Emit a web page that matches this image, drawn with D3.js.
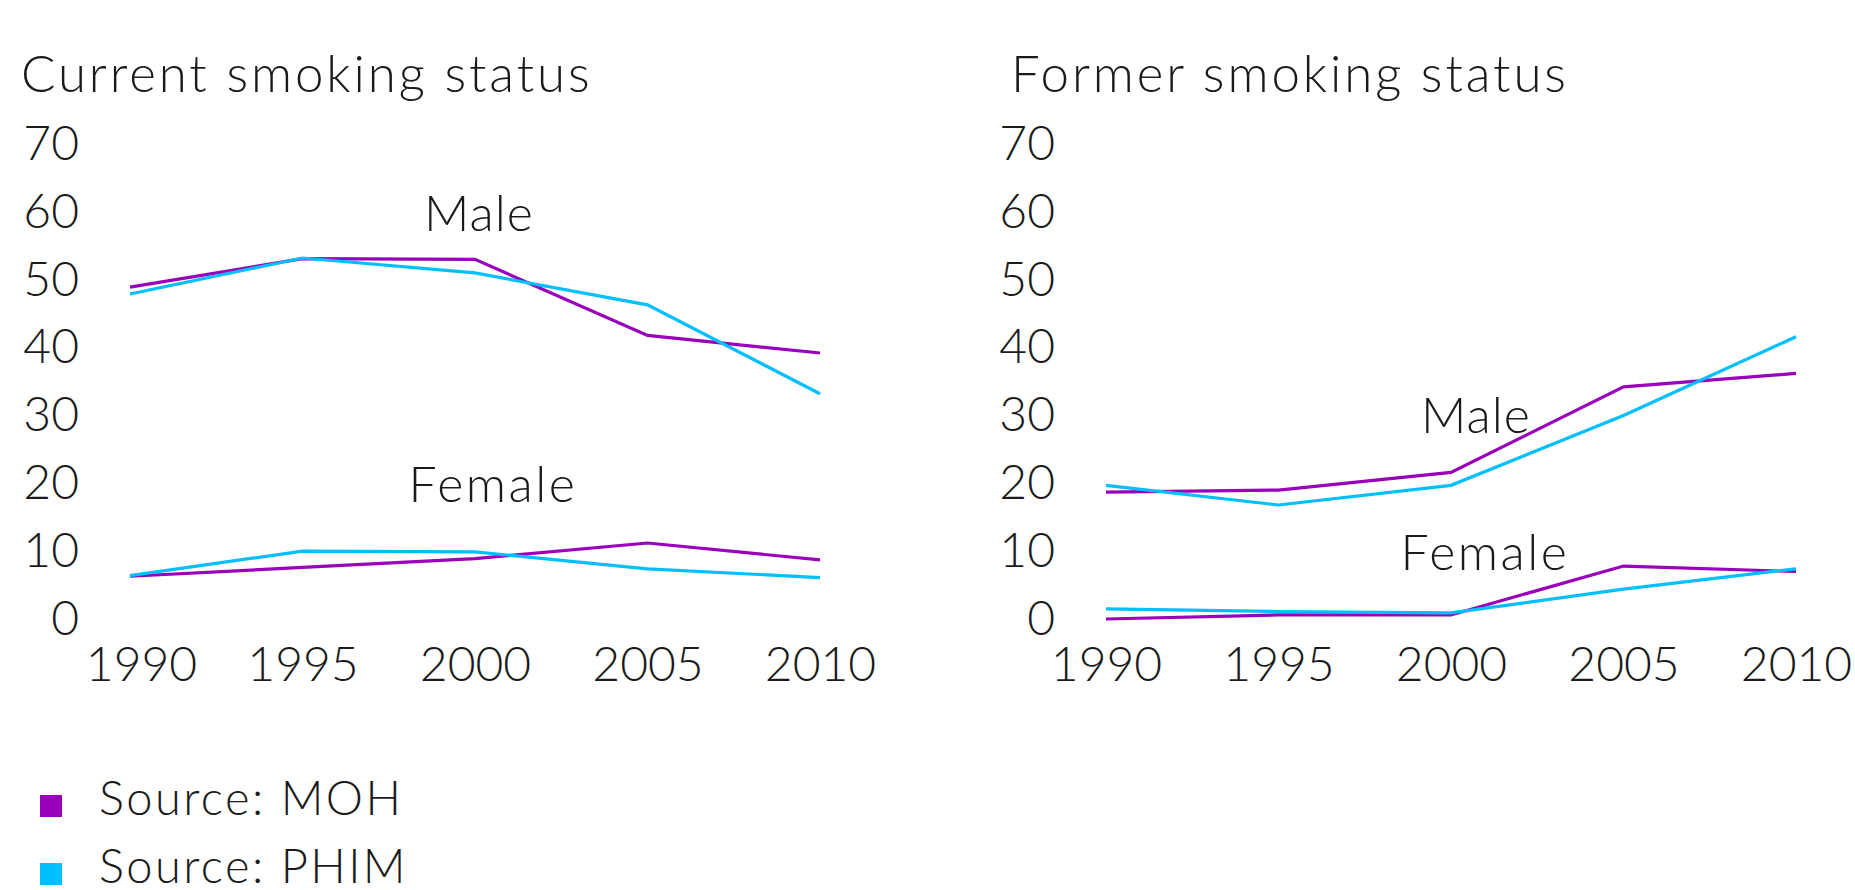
<!DOCTYPE html>
<html>
<head>
<meta charset="utf-8">
<script src="https://cdn.jsdelivr.net/npm/d3@7"></script>
<style>
  body { margin: 0; background: #fff; }
  svg text { font-family: Lato, "Open Sans", sans-serif; font-weight: 300; fill: #1a1a1a; }
</style>
</head>
<body>
<div id="chart"></div>
<script>
// data
const years = [1990, 1995, 2000, 2005, 2010];
const yTicks = [0, 10, 20, 30, 40, 50, 60, 70];

const currentMaleMOH = [48.9, 53.1, 53.0, 41.8, 39.2];
const currentMalePHIM = [47.9, 53.2, 51.0, 46.3, 33.2];
const currentFemaleMOH = [6.3, 7.6, 8.9, 11.2, 8.7];
const currentFemalePHIM = [6.4, 10.0, 9.9, 7.4, 6.1];

const formerMaleMOH = [18.7, 19.0, 21.6, 34.2, 36.2];
const formerMalePHIM = [19.7, 16.8, 19.7, 30.0, 41.6];
const formerFemaleMOH = [0.0, 0.6, 0.6, 7.8, 7.0];
const formerFemalePHIM = [1.5, 1.1, 0.9, 4.4, 7.4];

const sources = ["Source: MOH", "Source: PHIM"];
const colors = ["#9a00bc", "#00bfff"];

const width = 1855, height = 890;

const svg = d3.select("#chart")
  .append("svg")
  .attr("width", width)
  .attr("height", height);

const panels = [
  {
    title: "Current smoking status", x0: 130, titleX: 21,
    series: [currentMaleMOH, currentMalePHIM, currentFemaleMOH, currentFemalePHIM],
    labels: [{text: "Male", x: 479, y: 231}, {text: "Female", x: 493, y: 502}]
  },
  {
    title: "Former smoking status", x0: 1106, titleX: 1011,
    series: [formerMaleMOH, formerMalePHIM, formerFemaleMOH, formerFemalePHIM],
    labels: [{text: "Male", x: 1476, y: 433}, {text: "Female", x: 1485, y: 570}]
  }
];

const y = d3.scaleLinear().domain([0, 70]).range([619, 144]);

panels.forEach(function(p, pi) {
  const x = d3.scaleLinear().domain([1990, 2010]).range([p.x0, p.x0 + 690]);

  svg.append("text")
    .attr("x", p.titleX)
    .attr("y", 92)
    .attr("font-size", 51)
    .attr("letter-spacing", 2.9)
    .text(p.title);

  // y axis
  const yAxis = svg.append("g")
    .attr("transform", `translate(${p.x0},0)`)
    .call(d3.axisLeft(y).tickValues(yTicks).tickSize(0).tickPadding(51));
  yAxis.select(".domain").remove();
  yAxis.selectAll("text")
    .attr("font-size", 48)
    .attr("font-family", null);

  // x axis
  const xAxis = svg.append("g")
    .attr("transform", `translate(0,${y(0)})`)
    .call(d3.axisBottom(x).tickValues(years).tickFormat(d3.format("d")).tickSize(0).tickPadding(28));
  xAxis.select(".domain").remove();
  xAxis.selectAll("text")
    .attr("font-size", 48)
    .attr("font-family", null)
    .attr("dx", (d, i) => (pi === 0 && i === 0) ? 11 : 0);

  const line = d3.line()
    .x((d, i) => x(years[i]))
    .y(d => y(d));

  p.series.forEach(function(s, si) {
    svg.append("path")
      .datum(s)
      .attr("fill", "none")
      .attr("stroke", colors[si % 2])
      .attr("stroke-width", 3.2)
      .attr("d", line);
  });

  svg.selectAll(null)
    .data(p.labels)
    .enter()
    .append("text")
    .attr("x", d => d.x)
    .attr("y", d => d.y)
    .attr("text-anchor", "middle")
    .attr("font-size", 50)
    .attr("letter-spacing", d => d.text === "Female" ? 2.5 : 1)
    .text(d => d.text);
});

// legend
const legend = svg.selectAll("g.legend")
  .data(sources)
  .enter()
  .append("g")
  .attr("class", "legend")
  .attr("transform", (d, i) => `translate(40,${795 + i * 68})`);

legend.append("rect")
  .attr("width", 22)
  .attr("height", 22)
  .attr("fill", (d, i) => colors[i]);

legend.append("text")
  .attr("x", 59)
  .attr("y", 20)
  .attr("font-size", 47)
  .attr("letter-spacing", 2.4)
  .text(d => d);
</script>
</body>
</html>
